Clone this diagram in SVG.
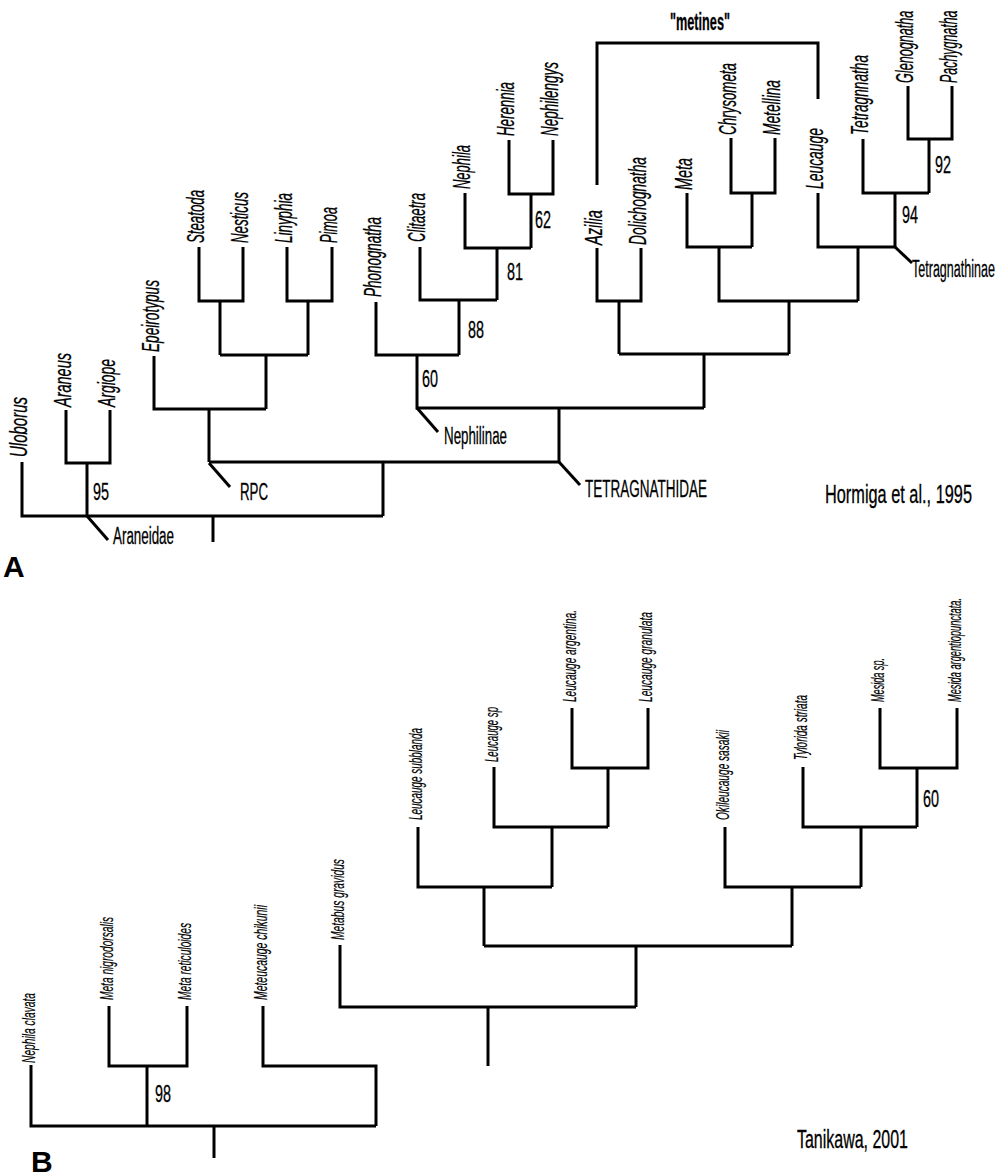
<svg xmlns="http://www.w3.org/2000/svg" width="1004" height="1176" viewBox="0 0 1004 1176">
<style>
.ln{fill:none;stroke:#000;stroke-width:3;stroke-linejoin:miter;stroke-linecap:butt}
.ta{font-family:"Liberation Sans",Arial,sans-serif;font-size:23px;font-style:italic;fill:#000;stroke:#000;stroke-width:0.3}
.tb{font-family:"Liberation Sans",Arial,sans-serif;font-size:18px;font-style:italic;fill:#000;stroke:#000;stroke-width:0.2}
.gr{font-family:"Liberation Sans",Arial,sans-serif;font-size:23px;fill:#000;stroke:#000;stroke-width:0.3}
.num{font-family:"Liberation Sans",Arial,sans-serif;font-size:23px;fill:#000;stroke:#000;stroke-width:0.3}
.cit{font-family:"Liberation Sans",Arial,sans-serif;font-size:25px;fill:#000;stroke:#000;stroke-width:0.3}
.pl{font-family:"Liberation Sans",Arial,sans-serif;font-size:30px;font-weight:bold;fill:#000}
</style>
<rect width="1004" height="1176" fill="#fff"/>
<g id="connectors">
<!-- Panel A -->
<path class="ln" d="M22 462V516H383"/>
<path class="ln" d="M213 516V542"/>
<path class="ln" d="M66 410V463H110V410"/>
<path class="ln" d="M87 463V516"/>
<path class="ln" d="M154 356V409H266"/>
<path class="ln" d="M209 409V462"/>
<path class="ln" d="M199 247V301H243V247"/>
<path class="ln" d="M220 301V355"/>
<path class="ln" d="M287 247V301H332V247"/>
<path class="ln" d="M308 301V355"/>
<path class="ln" d="M220 355H308"/>
<path class="ln" d="M266 355V409"/>
<path class="ln" d="M209 462H559"/>
<path class="ln" d="M383 462V516"/>
<path class="ln" d="M509 140V194H553V140"/>
<path class="ln" d="M531 194V248"/>
<path class="ln" d="M465 193V248H531"/>
<path class="ln" d="M497 248V300"/>
<path class="ln" d="M420 247V300H497"/>
<path class="ln" d="M459 300V355"/>
<path class="ln" d="M376 302V355H459"/>
<path class="ln" d="M417 355V408H704"/>
<path class="ln" d="M559 408V462"/>
<path class="ln" d="M597 248V301H641V248"/>
<path class="ln" d="M619 301V354"/>
<path class="ln" d="M731 138V193H775V138"/>
<path class="ln" d="M752 193V247"/>
<path class="ln" d="M687 193V247H752"/>
<path class="ln" d="M719 247V301H858"/>
<path class="ln" d="M908 86V139H952V86"/>
<path class="ln" d="M929 139V193"/>
<path class="ln" d="M863 139V193H929"/>
<path class="ln" d="M895 193V247"/>
<path class="ln" d="M818 193V247H895"/>
<path class="ln" d="M858 247V301"/>
<path class="ln" d="M789 301V354"/>
<path class="ln" d="M619 354H789"/>
<path class="ln" d="M704 354V408"/>
<path class="ln" d="M597 185V43H818V99"/>
<path class="ln" d="M87 516L108 540"/>
<path class="ln" d="M209 463L230 487"/>
<path class="ln" d="M417 408L438 432"/>
<path class="ln" d="M559 462L580 485"/>
<path class="ln" d="M895 247L912 263"/>
<!-- Panel B -->
<path class="ln" d="M31 1065V1126H376"/>
<path class="ln" d="M214 1126V1158"/>
<path class="ln" d="M109 1006V1066H187V1006"/>
<path class="ln" d="M147 1066V1126"/>
<path class="ln" d="M263 1006V1066H376V1126"/>
<path class="ln" d="M340 945V1007H636"/>
<path class="ln" d="M488 1007V1066"/>
<path class="ln" d="M572 708V768H648V708"/>
<path class="ln" d="M608 768V827"/>
<path class="ln" d="M494 767V827H608"/>
<path class="ln" d="M552 827V887"/>
<path class="ln" d="M418 827V887H552"/>
<path class="ln" d="M484 887V946"/>
<path class="ln" d="M880 708V768H957V708"/>
<path class="ln" d="M917 768V827"/>
<path class="ln" d="M803 767V827H917"/>
<path class="ln" d="M861 827V887"/>
<path class="ln" d="M725 827V887H861"/>
<path class="ln" d="M792 887V946"/>
<path class="ln" d="M484 946H792"/>
<path class="ln" d="M636 946V1007"/>
</g>
<!-- Panel A taxa -->
<g id="uloborus"><text class="ta" transform="translate(27,457) rotate(-90)" textLength="60" lengthAdjust="spacingAndGlyphs">Uloborus</text></g>
<g id="araneus"><text class="ta" transform="translate(71,407) rotate(-90)" textLength="54" lengthAdjust="spacingAndGlyphs">Araneus</text></g>
<g id="argiope"><text class="ta" transform="translate(115,407) rotate(-90)" textLength="48" lengthAdjust="spacingAndGlyphs">Argiope</text></g>
<g id="epeirotypus"><text class="ta" transform="translate(159,352) rotate(-90)" textLength="72" lengthAdjust="spacingAndGlyphs">Epeirotypus</text></g>
<g id="steatoda"><text class="ta" transform="translate(204,243) rotate(-90)" textLength="53" lengthAdjust="spacingAndGlyphs">Steatoda</text></g>
<g id="nesticus"><text class="ta" transform="translate(248,243) rotate(-90)" textLength="51" lengthAdjust="spacingAndGlyphs">Nesticus</text></g>
<g id="linyphia"><text class="ta" transform="translate(292,243) rotate(-90)" textLength="50" lengthAdjust="spacingAndGlyphs">Linyphia</text></g>
<g id="pimoa"><text class="ta" transform="translate(337,243) rotate(-90)" textLength="36" lengthAdjust="spacingAndGlyphs">Pimoa</text></g>
<g id="phonognatha"><text class="ta" transform="translate(381,297) rotate(-90)" textLength="80" lengthAdjust="spacingAndGlyphs">Phonognatha</text></g>
<g id="clitaetra"><text class="ta" transform="translate(425,242) rotate(-90)" textLength="49" lengthAdjust="spacingAndGlyphs">Clitaetra</text></g>
<g id="nephila"><text class="ta" transform="translate(470,189) rotate(-90)" textLength="44" lengthAdjust="spacingAndGlyphs">Nephila</text></g>
<g id="herennia"><text class="ta" transform="translate(514,136) rotate(-90)" textLength="54" lengthAdjust="spacingAndGlyphs">Herennia</text></g>
<g id="nephilengys"><text class="ta" transform="translate(558,136) rotate(-90)" textLength="74" lengthAdjust="spacingAndGlyphs">Nephilengys</text></g>
<g id="azilia"><text class="ta" transform="translate(602,245) rotate(-90)" textLength="35" lengthAdjust="spacingAndGlyphs">Azilia</text></g>
<g id="dolichognatha"><text class="ta" transform="translate(646,245) rotate(-90)" textLength="88" lengthAdjust="spacingAndGlyphs">Dolichognatha</text></g>
<g id="meta"><text class="ta" transform="translate(692,190) rotate(-90)" textLength="32" lengthAdjust="spacingAndGlyphs">Meta</text></g>
<g id="chrysometa"><text class="ta" transform="translate(736,135) rotate(-90)" textLength="72" lengthAdjust="spacingAndGlyphs">Chrysometa</text></g>
<g id="metellina"><text class="ta" transform="translate(780,135) rotate(-90)" textLength="55" lengthAdjust="spacingAndGlyphs">Metellina</text></g>
<g id="leucauge"><text class="ta" transform="translate(823,189) rotate(-90)" textLength="61" lengthAdjust="spacingAndGlyphs">Leucauge</text></g>
<g id="tetragnnatha"><text class="ta" transform="translate(868,135) rotate(-90)" textLength="80" lengthAdjust="spacingAndGlyphs">Tetragnnatha</text></g>
<g id="glenognatha"><text class="ta" transform="translate(913,83) rotate(-90) scale(0.55,1)">Glenognatha</text></g>
<g id="pachygnatha"><text class="ta" transform="translate(957,83) rotate(-90) scale(0.54,1)">Pachygnatha</text></g>
<!-- Panel A groups -->
<g id="araneidae"><text class="gr" x="113" y="544" textLength="61" lengthAdjust="spacingAndGlyphs">Araneidae</text></g>
<g id="rpc"><text class="gr" x="240" y="500" textLength="28" lengthAdjust="spacingAndGlyphs">RPC</text></g>
<g id="nephilinae"><text class="gr" x="444" y="444" textLength="63" lengthAdjust="spacingAndGlyphs">Nephilinae</text></g>
<g id="tetragnathidae"><text class="gr" x="585" y="497" textLength="122" lengthAdjust="spacingAndGlyphs">TETRAGNATHIDAE</text></g>
<g id="tetragnathinae"><text class="gr" transform="translate(912,277) scale(0.545,1)">Tetragnathinae</text></g>
<g id="metines"><text class="gr" x="670" y="30" font-weight="bold" textLength="60" lengthAdjust="spacingAndGlyphs">"metines"</text></g>
<g id="support-a">
<text class="num" x="93" y="500" textLength="16" lengthAdjust="spacingAndGlyphs">95</text>
<text class="num" x="535" y="228" textLength="16" lengthAdjust="spacingAndGlyphs">62</text>
<text class="num" x="507" y="280" textLength="16" lengthAdjust="spacingAndGlyphs">81</text>
<text class="num" x="468" y="338" textLength="16" lengthAdjust="spacingAndGlyphs">88</text>
<text class="num" x="422" y="387" textLength="16" lengthAdjust="spacingAndGlyphs">60</text>
<text class="num" x="935" y="173" textLength="16" lengthAdjust="spacingAndGlyphs">92</text>
<text class="num" x="902" y="223" textLength="16" lengthAdjust="spacingAndGlyphs">94</text>
</g>
<g id="citation-a"><text class="cit" transform="translate(825,503) scale(0.653,1)">Hormiga et al., 1995</text></g>
<g id="label-a"><text class="pl" x="3" y="577">A</text></g>
<!-- Panel B taxa -->
<g id="nephila-clavata"><text class="tb" transform="translate(35,1063) rotate(-90)" textLength="70" lengthAdjust="spacingAndGlyphs">Nephila clavata</text></g>
<g id="meta-nigrodorsalis"><text class="tb" transform="translate(113,1000) rotate(-90)" textLength="83" lengthAdjust="spacingAndGlyphs">Meta nigrodorsalis</text></g>
<g id="meta-reticuloides"><text class="tb" transform="translate(191,1000) rotate(-90)" textLength="77" lengthAdjust="spacingAndGlyphs">Meta reticuloides</text></g>
<g id="meteucauge-chikunii"><text class="tb" transform="translate(267,1000) rotate(-90)" textLength="95" lengthAdjust="spacingAndGlyphs">Meteucauge chikunii</text></g>
<g id="metabus-gravidus"><text class="tb" transform="translate(344,940) rotate(-90)" textLength="81" lengthAdjust="spacingAndGlyphs">Metabus gravidus</text></g>
<g id="leucauge-subblanda"><text class="tb" transform="translate(422,820) rotate(-90)" textLength="92" lengthAdjust="spacingAndGlyphs">Leucauge subblanda</text></g>
<g id="leucauge-sp"><text class="tb" transform="translate(498,762) rotate(-90)" textLength="55" lengthAdjust="spacingAndGlyphs">Leucauge sp</text></g>
<g id="leucauge-argentina"><text class="tb" transform="translate(576,702) rotate(-90)" textLength="92" lengthAdjust="spacingAndGlyphs">Leucauge argentina.</text></g>
<g id="leucauge-granulata"><text class="tb" transform="translate(652,702) rotate(-90)" textLength="90" lengthAdjust="spacingAndGlyphs">Leucauge granulata</text></g>
<g id="okileucauge-sasakii"><text class="tb" transform="translate(729,820) rotate(-90)" textLength="90" lengthAdjust="spacingAndGlyphs">Okileucauge sasakii</text></g>
<g id="tylorida-striata"><text class="tb" transform="translate(807,760) rotate(-90)" textLength="65" lengthAdjust="spacingAndGlyphs">Tylorida striata</text></g>
<g id="mesida-sp"><text class="tb" transform="translate(884,702) rotate(-90)" textLength="44" lengthAdjust="spacingAndGlyphs">Mesida sp.</text></g>
<g id="mesida-argentiopunctata"><text class="tb" transform="translate(961,702) rotate(-90)" textLength="104" lengthAdjust="spacingAndGlyphs">Mesida argentiopunctata.</text></g>
<g id="support-b">
<text class="num" x="155" y="1102" textLength="16" lengthAdjust="spacingAndGlyphs">98</text>
<text class="num" x="923" y="807" textLength="16" lengthAdjust="spacingAndGlyphs">60</text>
</g>
<g id="citation-b"><text class="cit" x="797" y="1148" textLength="111" lengthAdjust="spacingAndGlyphs">Tanikawa, 2001</text></g>
<g id="label-b"><text class="pl" x="31" y="1172">B</text></g>
</svg>
